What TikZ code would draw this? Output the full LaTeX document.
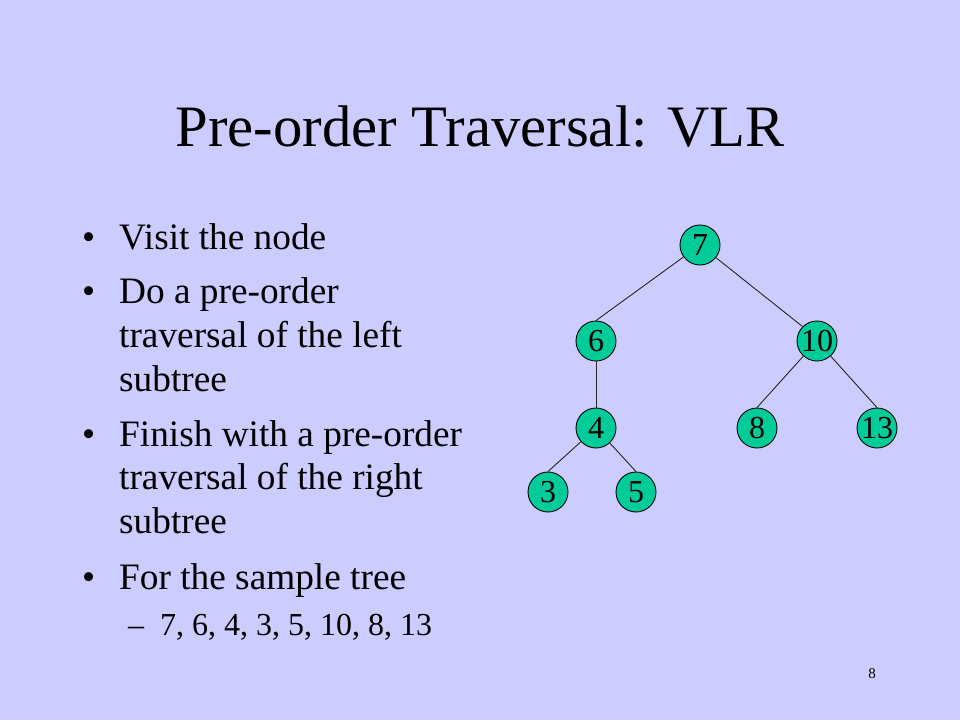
\documentclass[tikz,border=0pt]{standalone}
\usepackage{fontspec}
\setmainfont{Liberation Serif}
\definecolor{slidebg}{HTML}{CCCCFF}
\definecolor{nodefill}{HTML}{00CC99}
\tikzset{
  treenode/.style={circle, draw=black, line width=0.9pt, fill=nodefill, minimum size=40pt, inner sep=0pt, font=\fontsize{32}{32}\selectfont},
  treeedge/.style={draw=black!85, line width=0.9pt},
  bodytext/.style={anchor=base west, inner sep=0pt, font=\fontsize{37.3}{43}\selectfont},
  bulletmark/.style={anchor=base west, inner sep=0pt, font=\fontsize{37.3}{43}\selectfont},
}
\begin{document}
\begin{tikzpicture}[x=1pt,y=-1pt]
\fill[slidebg] (0,0) rectangle (960,720);
\useasboundingbox (0,0) rectangle (960,720);
% title
\node[anchor=base, inner sep=0pt, font=\fontsize{58.7}{60}\selectfont] (title) at (480,146) {Pre-order Traversal: VLR};
% bullets
\node[bulletmark] (b1) at (82,249) {•};
\node[bodytext] (t1) at (119,249) {Visit the node};
\node[bulletmark] (b2) at (82,303) {•};
\node[bodytext] (t2a) at (119,303) {Do a pre-order};
\node[bodytext] (t2b) at (119,347) {traversal of the left};
\node[bodytext] (t2c) at (119,391) {subtree};
\node[bulletmark] (b3) at (82,446) {•};
\node[bodytext] (t3a) at (119,446) {Finish with a pre-order};
\node[bodytext] (t3b) at (119,489) {traversal of the right};
\node[bodytext] (t3c) at (119,533) {subtree};
\node[bulletmark] (b4) at (82,589) {•};
\node[bodytext] (t4) at (119,589) {For the sample tree};
\node[anchor=base west, inner sep=0pt, font=\fontsize{32}{36}\selectfont] (d1) at (128,635) {–};
\node[anchor=base west, inner sep=0pt, font=\fontsize{32}{36}\selectfont] (t5) at (160,635) {7, 6, 4, 3, 5, 10, 8, 13};
% page number
\node[anchor=base, inner sep=0pt, font=\fontsize{15}{15}\selectfont] (pg) at (872,678) {8};
% tree
\node[treenode] (n7) at (700,245) {7};
\node[treenode] (n6) at (596,341) {6};
\node[treenode] (n10) at (817,341) {10};
\node[treenode] (n4) at (596,428) {4};
\node[treenode] (n8) at (757,428) {8};
\node[treenode] (n13) at (877,428) {13};
\node[treenode] (n3) at (548,492) {3};
\node[treenode] (n5) at (636,492) {5};
\path[treeedge] (n7) -- (n6.north);
\path[treeedge] (n7) -- (n10.135);
\path[treeedge] (n6) -- (n4.north);
\path[treeedge] (n10) -- (n8.north);
\path[treeedge] (n10) -- (n13.north);
\path[treeedge] (n4) -- (n3.north);
\path[treeedge] (n4) -- (n5.north);
\end{tikzpicture}
\end{document}
